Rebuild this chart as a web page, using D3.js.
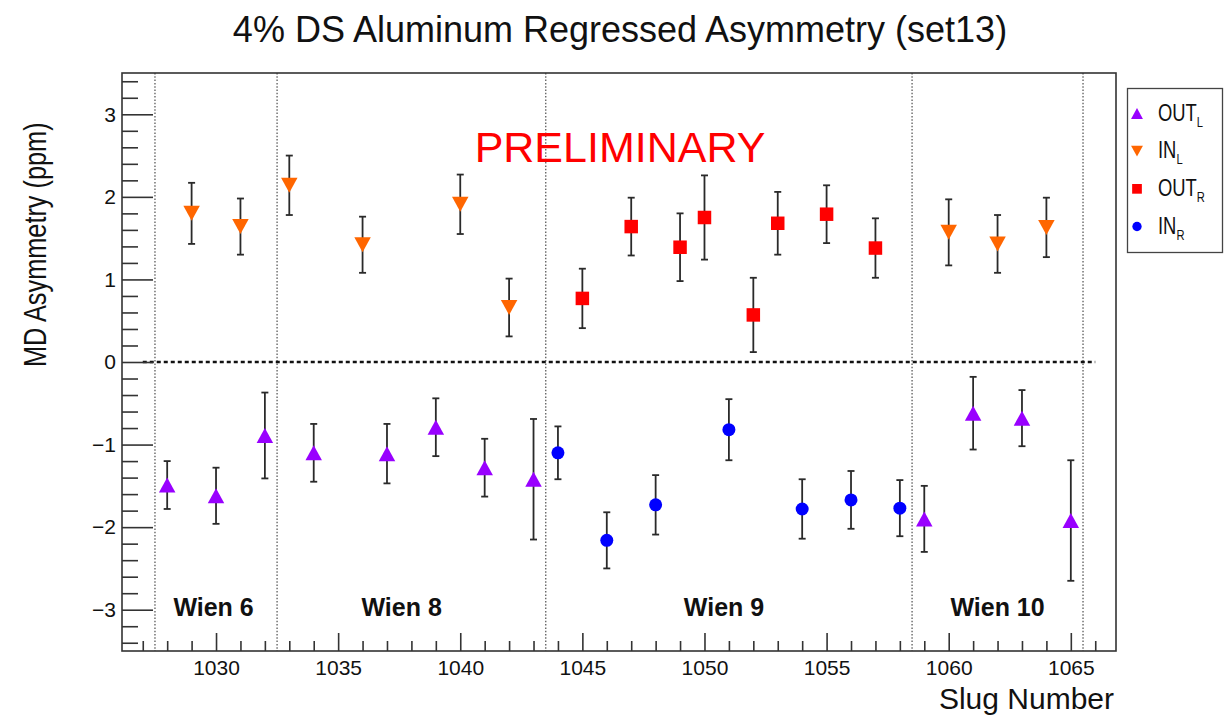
<!DOCTYPE html>
<html>
<head>
<meta charset="utf-8">
<script src="https://cdn.jsdelivr.net/npm/d3@7"></script>
<style>
  html, body { margin: 0; padding: 0; background: #fff; }
  svg { display: block; font-family: "Liberation Sans", Arial, Helvetica, sans-serif; }
</style>
</head>
<body>
<svg id="chart" width="1224" height="716"></svg>
<script>
// ---------------- data ----------------
const outL_slug = [1028, 1030, 1032, 1034, 1037, 1039, 1041, 1043, 1059, 1061, 1063, 1065];
const outL_val  = [-1.49, -1.62, -0.89, -1.10, -1.11, -0.79, -1.28, -1.42, -1.90, -0.62, -0.68, -1.92];
const outL_err  = [0.29, 0.34, 0.52, 0.35, 0.36, 0.35, 0.35, 0.73, 0.40, 0.44, 0.34, 0.73];

const inL_slug = [1029, 1031, 1033, 1036, 1040, 1042, 1060, 1062, 1064];
const inL_val  = [1.80, 1.64, 2.14, 1.42, 1.91, 0.66, 1.57, 1.43, 1.63];
const inL_err  = [0.37, 0.34, 0.36, 0.34, 0.36, 0.35, 0.40, 0.35, 0.36];

const outR_slug = [1045, 1047, 1049, 1050, 1052, 1053, 1055, 1057];
const outR_val  = [0.77, 1.64, 1.39, 1.75, 0.57, 1.68, 1.79, 1.38];
const outR_err  = [0.36, 0.35, 0.41, 0.51, 0.45, 0.38, 0.35, 0.36];

const inR_slug = [1044, 1046, 1048, 1051, 1054, 1056, 1058];
const inR_val  = [-1.10, -2.16, -1.73, -0.82, -1.78, -1.67, -1.77];
const inR_err  = [0.32, 0.34, 0.36, 0.37, 0.36, 0.35, 0.34];

const wienBounds = [1027.5, 1032.5, 1043.5, 1058.5, 1065.5];
const wienLabels = ["Wien 6", "Wien 8", "Wien 9", "Wien 10"];
const wienLabelX = [1029.9, 1037.6, 1050.8, 1062.0];
const wienLabelY = -3.08;

const xMajorTicks = [1030, 1035, 1040, 1045, 1050, 1055, 1060, 1065];
const yMajorTicks = [-3, -2, -1, 0, 1, 2, 3];

const xDomain = [1026.15, 1066.85];
const yDomain = [-3.5, 3.5];
const zeroLineRange = [1027, 1066];

// ---------------- layout ----------------
const svg = d3.select("#chart");
const L = 122, R = 1116, T = 73, B = 651;
const x = d3.scaleLinear().domain(xDomain).range([L, R]);
const y = d3.scaleLinear().domain(yDomain).range([B, T]);
const axisColor = "#333";

svg.append("rect").attr("width", 1224).attr("height", 716).attr("fill", "#fff");

// vertical Wien boundary lines
svg.append("g").selectAll("line").data(wienBounds).join("line")
  .attr("x1", d => x(d)).attr("x2", d => x(d))
  .attr("y1", T).attr("y2", B)
  .attr("stroke", "#666").attr("stroke-width", 1.4)
  .attr("stroke-dasharray", "1.5 1.8");

// zero line
svg.append("line")
  .attr("x1", x(zeroLineRange[0])).attr("x2", x(zeroLineRange[1]))
  .attr("y1", y(0)).attr("y2", y(0))
  .attr("stroke", "#111").attr("stroke-width", 2.6)
  .attr("stroke-dasharray", "4 3");

// axes
const fmt = d3.format("d");
const xAxis = d3.axisBottom(x).tickValues(xMajorTicks).tickFormat(fmt)
  .tickSizeInner(-18).tickSizeOuter(0).tickPadding(9);
const xMinor = d3.axisBottom(x).tickValues(d3.range(1027, 1067, 1).filter(v => v % 5 !== 0))
  .tickFormat("").tickSizeInner(-10).tickSizeOuter(0);
const yAxis = d3.axisLeft(y).tickValues(yMajorTicks).tickFormat(d3.format("d"))
  .tickSizeInner(-31).tickSizeOuter(0).tickPadding(6);
const yMinorVals = d3.range(-34, 35, 2).map(v => v / 10).filter(v => Math.abs(v - Math.round(v)) > 1e-6);
const yMinor = d3.axisLeft(y).tickValues(yMinorVals).tickFormat("")
  .tickSizeInner(-16).tickSizeOuter(0);

function styleAxis(g) {
  g.select(".domain").remove();
  g.selectAll(".tick line").attr("stroke", axisColor).attr("stroke-width", 1.6);
  g.selectAll(".tick text").attr("fill", "#111").attr("font-size", 21)
    .attr("font-family", "'Liberation Sans', Arial, sans-serif");
}
svg.append("g").attr("transform", `translate(0,${B})`).call(xMinor).call(styleAxis);
svg.append("g").attr("transform", `translate(0,${B})`).call(xAxis).call(styleAxis);
svg.append("g").attr("transform", `translate(${L},0)`).call(yMinor).call(styleAxis);
svg.append("g").attr("transform", `translate(${L},0)`).call(yAxis).call(styleAxis);

// frame
svg.append("rect").attr("x", L).attr("y", T).attr("width", R - L).attr("height", B - T)
  .attr("fill", "none").attr("stroke", axisColor).attr("stroke-width", 1.6);

// markers
const shapes = {
  up:   (s) => `M0,${-s/2}L${s*0.55},${s/2}L${-s*0.55},${s/2}Z`,
  down: (s) => `M0,${s/2}L${s*0.55},${-s/2}L${-s*0.55},${-s/2}Z`,
  square: (s) => `M${-s/2},${-s/2}h${s}v${s}h${-s}Z`,
  circle: (s) => `M${s/2},0A${s/2},${s/2} 0 1,1 ${-s/2},0A${s/2},${s/2} 0 1,1 ${s/2},0Z`
};

const series = [
  { name: "OUT", sub: "L", slug: outL_slug, val: outL_val, err: outL_err, color: "#9900ff", shape: "up", size: 15 },
  { name: "IN",  sub: "L", slug: inL_slug,  val: inL_val,  err: inL_err,  color: "#ff6600", shape: "down", size: 15 },
  { name: "OUT", sub: "R", slug: outR_slug, val: outR_val, err: outR_err, color: "#ff0000", shape: "square", size: 13.5 },
  { name: "IN",  sub: "R", slug: inR_slug,  val: inR_val,  err: inR_err,  color: "#0000ff", shape: "circle", size: 13 }
];

series.forEach(s => {
  const pts = s.slug.map((d, i) => ({ x: d, v: s.val[i], e: s.err[i] }));
  const g = svg.append("g");
  const eb = g.selectAll("g.eb").data(pts).join("g").attr("class", "eb");
  eb.append("line")
    .attr("x1", d => x(d.x)).attr("x2", d => x(d.x))
    .attr("y1", d => y(d.v + d.e)).attr("y2", d => y(d.v - d.e))
    .attr("stroke", "#2a2a2a").attr("stroke-width", 1.8);
  eb.append("line")
    .attr("x1", d => x(d.x) - 3.5).attr("x2", d => x(d.x) + 3.5)
    .attr("y1", d => y(d.v + d.e)).attr("y2", d => y(d.v + d.e))
    .attr("stroke", "#2a2a2a").attr("stroke-width", 1.8);
  eb.append("line")
    .attr("x1", d => x(d.x) - 3.5).attr("x2", d => x(d.x) + 3.5)
    .attr("y1", d => y(d.v - d.e)).attr("y2", d => y(d.v - d.e))
    .attr("stroke", "#2a2a2a").attr("stroke-width", 1.8);
  g.selectAll("path.m").data(pts).join("path").attr("class", "m")
    .attr("transform", d => `translate(${x(d.x)},${y(d.v)})`)
    .attr("d", shapes[s.shape](s.size))
    .attr("fill", s.color);
});

// Wien labels
svg.append("g").selectAll("text").data(wienLabels).join("text")
  .attr("x", (d, i) => x(wienLabelX[i])).attr("y", y(wienLabelY))
  .attr("text-anchor", "middle").attr("font-size", 25).attr("font-weight", "bold")
  .attr("fill", "#111").text(d => d);

// PRELIMINARY
svg.append("text").attr("x", 620).attr("y", 162).attr("text-anchor", "middle")
  .attr("font-size", 43).attr("fill", "#ff0000").text("PRELIMINARY");

// titles
svg.append("text").attr("x", 620).attr("y", 42).attr("text-anchor", "middle")
  .attr("font-size", 36).attr("fill", "#111").text("4% DS Aluminum Regressed Asymmetry (set13)");
svg.append("text").attr("x", 1114).attr("y", 709).attr("text-anchor", "end")
  .attr("font-size", 30).attr("fill", "#111").text("Slug Number");
svg.append("text").attr("transform", `translate(46,367) rotate(-90) scale(0.83,1)`)
  .attr("text-anchor", "start")
  .attr("font-size", 30.5).attr("fill", "#111").text("MD Asymmetry (ppm)");

// legend
const lg = svg.append("g");
lg.append("rect").attr("x", 1127.5).attr("y", 88.5).attr("width", 95).attr("height", 164)
  .attr("fill", "#fff").attr("stroke", "#444").attr("stroke-width", 1.3);
const legY = d3.scaleLinear().domain([0, 3]).range([113.5, 226.5]);
series.forEach((s, i) => {
  lg.append("path").attr("transform", `translate(1137,${legY(i)})`)
    .attr("d", shapes[s.shape](s.size * 0.72)).attr("fill", s.color);
  const t = lg.append("text")
    .attr("transform", `translate(1158,${legY(i) + 7}) scale(0.8,1)`)
    .attr("font-size", 23).attr("fill", "#111");
  t.append("tspan").text(s.name);
  t.append("tspan").attr("font-size", 14).attr("dy", 6).text(s.sub);
});
</script>
</body>
</html>
